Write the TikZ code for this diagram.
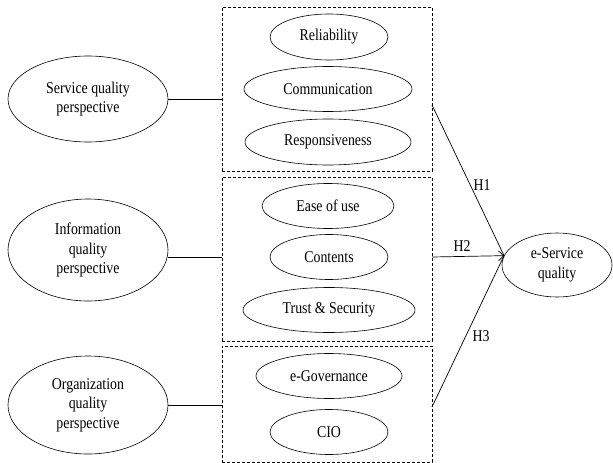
\documentclass[tikz,border=0pt]{standalone}
\usepackage{fontspec}
\setmainfont[FakeStretch=0.84]{Liberation Serif}
\usetikzlibrary{shapes.geometric,arrows.meta}
\begin{document}
\begin{tikzpicture}[x=1pt,y=-1pt,
  every node/.style={font=\fontsize{16.5}{19.5}\selectfont, align=center},
  ell/.style={draw, ellipse, line width=0.6pt, inner sep=0pt},
  grp/.style={draw, dashed, dash pattern=on 3pt off 2pt, line width=0.6pt, inner sep=0pt},
  conn/.style={line width=0.7pt},
  hyp/.style={font=\fontsize{16.5}{19.5}\selectfont}
]
\useasboundingbox (0,0) rectangle (613,463);
% dashed groups
\node[grp, minimum width=210pt, minimum height=164pt] (box1) at (327,89) {};
\node[grp, minimum width=210pt, minimum height=164pt] (box2) at (327,259) {};
\node[grp, minimum width=210pt, minimum height=116pt] (box3) at (327,404) {};
% left perspectives
\node[ell, minimum width=160pt, minimum height=86pt] (svc) at (88,99) {Service quality\\perspective};
\node[ell, minimum width=160pt, minimum height=102pt] (info) at (88,250) {Information\\quality\\perspective};
\node[ell, minimum width=160pt, minimum height=98pt] (org) at (88,405) {Organization\\quality\\perspective};
% items
\node[ell, minimum width=118pt, minimum height=46pt] (rel) at (329,37) {Reliability};
\node[ell, minimum width=168pt, minimum height=45pt] (com) at (328,89) {Communication};
\node[ell, minimum width=166pt, minimum height=46pt] (res) at (328,142) {Responsiveness};
\node[ell, minimum width=132pt, minimum height=45pt] (eou) at (328,206) {Ease of use};
\node[ell, minimum width=118pt, minimum height=45pt] (cnt) at (329,257) {Contents};
\node[ell, minimum width=172pt, minimum height=45pt] (tru) at (329,310) {Trust \& Security};
\node[ell, minimum width=146pt, minimum height=45pt] (egv) at (329,376) {e-Governance};
\node[ell, minimum width=118pt, minimum height=45pt] (cio) at (329,432) {CIO};
% outcome
\node[ell, minimum width=110pt, minimum height=64pt] (esq) at (557,265) {e-Service\\quality};
% connectors left
\draw[conn] (svc.east) -- (svc.east -| box1.west);
\draw[conn] (info.-5) -- (info.-5 -| box2.west);
\draw[conn] (org.east) -- (org.east -| box3.west);
% hypotheses
\coordinate (tip) at (esq.170);
\coordinate (s1) at (432,105);
\coordinate (s2) at (432,257);
\coordinate (s3) at (432,407);
\draw[conn] (s1) -- (tip);
\draw[conn, -{Straight Barb[length=5pt,width=10pt]}] (s2) -- (tip);
\draw[conn] (s3) -- (tip);
\node[hyp] (h1) at (482,185) {H1};
\node[hyp] (h2) at (462,246) {H2};
\node[hyp] (h3) at (481,336) {H3};
\end{tikzpicture}
\end{document}
